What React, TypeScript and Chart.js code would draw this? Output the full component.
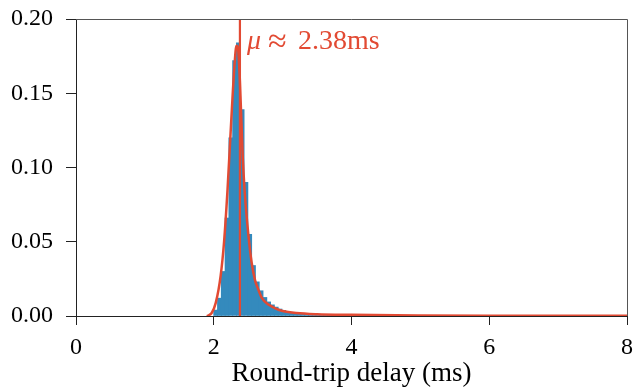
import React, { useEffect, useRef } from "react";
import { Chart, registerables } from "chart.js";

Chart.register(...registerables);

// Histogram bin centres (ms) and densities
const binCenters = [
  2.0275, 2.0825, 2.1375, 2.1925, 2.2475, 2.3025, 2.3575, 2.4125, 2.4675, 2.5225,
  2.5775, 2.6325, 2.6875, 2.7425, 2.7975, 2.8525, 2.9075, 2.9625, 3.0175, 3.0725,
  3.1275, 3.1825, 3.2375, 3.2925, 3.3475, 3.4025, 3.4575, 3.5125, 3.5675, 3.6225,
  3.6775, 3.7325, 3.7875,
];
const binDensity = [
  0.004, 0.012, 0.03, 0.066, 0.12, 0.172, 0.184, 0.139, 0.09, 0.055,
  0.034, 0.023, 0.017, 0.0125, 0.0095, 0.0075, 0.006, 0.0047, 0.0038, 0.003,
  0.0025, 0.002, 0.0017, 0.0014, 0.0012, 0.001, 0.0009, 0.0008, 0.0007, 0.0006,
  0.0005, 0.0004, 0.0003,
];

// Fitted curve (ms, density)
const fitX = [1.9, 1.97, 2.03, 2.1, 2.15, 2.2, 2.25, 2.3, 2.33, 2.35, 2.38, 2.42, 2.45, 2.5, 2.55, 2.6, 2.65, 2.7, 2.8, 2.9, 3.0, 3.2, 3.5, 4.0, 5.0, 6.0, 8.0];
const fitY = [0, 0.002, 0.009, 0.027, 0.05, 0.085, 0.128, 0.168, 0.182, 0.181, 0.158, 0.108, 0.083, 0.056, 0.036, 0.024, 0.0175, 0.012, 0.0075, 0.005, 0.0034, 0.002, 0.0012, 0.0008, 0.0004, 0.0002, 0.0001];

const meanDelay = 2.38;
const meanLabel = "2.38ms";
const xTicks = [0, 2, 4, 6, 8];
const yTicks = [0, 0.05, 0.1, 0.15, 0.2];
const xTitle = "Round-trip delay (ms)";

const BLUE = "#348ABD";
const RED = "#E24A33";
const FONT = '"Liberation Serif", "Times New Roman", serif';

export default function App() {
  const ref = useRef<HTMLCanvasElement | null>(null);

  useEffect(() => {
    document.body.style.margin = "0";
    const canvas = ref.current!;
    const framePlugin = {
      id: "frame",
      afterDatasetsDraw(chart: any) {
        const { ctx, chartArea } = chart;
        const xs = chart.scales.x;
        ctx.save();
        ctx.strokeStyle = "#555";
        ctx.lineWidth = 1;
        ctx.beginPath();
        ctx.moveTo(chartArea.left, chartArea.top + 0.5);
        ctx.lineTo(chartArea.right + 0.5, chartArea.top + 0.5);
        ctx.lineTo(chartArea.right + 0.5, chartArea.bottom);
        ctx.stroke();
        // annotation text
        const x0 = xs.getPixelForValue(meanDelay) + 7;
        const y0 = chartArea.top + 23;
        ctx.fillStyle = RED;
        ctx.textBaseline = "middle";
        ctx.textAlign = "left";
        ctx.font = `italic 28px ${FONT}`;
        ctx.fillText("\u03bc", x0, y0);
        ctx.font = `34px ${FONT}`;
        ctx.fillText("\u2248", x0 + 21, y0 + 1);
        ctx.font = `28px ${FONT}`;
        ctx.fillText(meanLabel, x0 + 51, y0);
        ctx.restore();
      },
    };

    const chart = new Chart(canvas, {
      type: "bar",
      data: {
        datasets: [
          {
            type: "line",
            data: [
              { x: meanDelay, y: 0 },
              { x: meanDelay, y: 0.2 },
            ],
            borderColor: RED,
            borderWidth: 2.2,
            pointRadius: 0,
            order: 1,
          } as any,
          {
            type: "line",
            data: fitX.map((x, i) => ({ x, y: fitY[i] })),
            borderColor: RED,
            borderWidth: 2.5,
            pointRadius: 0,
            cubicInterpolationMode: "monotone",
            order: 2,
          } as any,
          {
            type: "bar",
            data: binCenters.map((x, i) => ({ x, y: binDensity[i] })),
            backgroundColor: BLUE,
            borderWidth: 0,
            barPercentage: 1,
            categoryPercentage: 1,
            barThickness: 4,
            order: 3,
          } as any,
        ],
      },
      options: {
        responsive: false,
        animation: false,
        events: [],
        layout: { padding: { top: 19, right: 6, left: 0, bottom: 0 } },
        plugins: { legend: { display: false }, tooltip: { enabled: false } },
        scales: {
          x: {
            type: "linear",
            min: 0,
            max: 8,
            offset: false,
            afterBuildTicks: (s: any) => {
              s.ticks = xTicks.map((v) => ({ value: v }));
            },
            afterFit: (s: any) => {
              s.height = 74;
              s.paddingLeft = 0;
              s.paddingRight = 0;
            },
            ticks: {
              color: "#000",
              font: { family: FONT, size: 24 },
              padding: 8,
              maxRotation: 0,
              callback: (v: any) => String(v),
            },
            grid: {
              display: true,
              drawOnChartArea: false,
              drawTicks: true,
              tickLength: 9,
              color: "#222",
              offset: false,
            },
            border: { display: true, color: "#222", width: 1 },
            title: {
              display: true,
              text: xTitle,
              color: "#000",
              font: { family: FONT, size: 27 },
              padding: { top: 0, bottom: 0 },
            },
          },
          y: {
            type: "linear",
            min: 0,
            max: 0.2,
            afterBuildTicks: (s: any) => {
              s.ticks = yTicks.map((v) => ({ value: v }));
            },
            afterFit: (s: any) => {
              s.width = 76;
              s.paddingTop = 0;
              s.paddingBottom = 0;
            },
            ticks: {
              color: "#000",
              font: { family: FONT, size: 24 },
              padding: 13,
              callback: (v: any) => Number(v).toFixed(2),
            },
            grid: {
              display: true,
              drawOnChartArea: false,
              drawTicks: true,
              tickLength: 10,
              color: "#222",
            },
            border: { display: true, color: "#222", width: 1 },
          },
        },
      },
      plugins: [framePlugin],
    } as any);
    return () => chart.destroy();
  }, []);

  return (
    <div style={{ width: 633, height: 390 }}>
      <canvas ref={ref} width={633} height={390} />
    </div>
  );
}
